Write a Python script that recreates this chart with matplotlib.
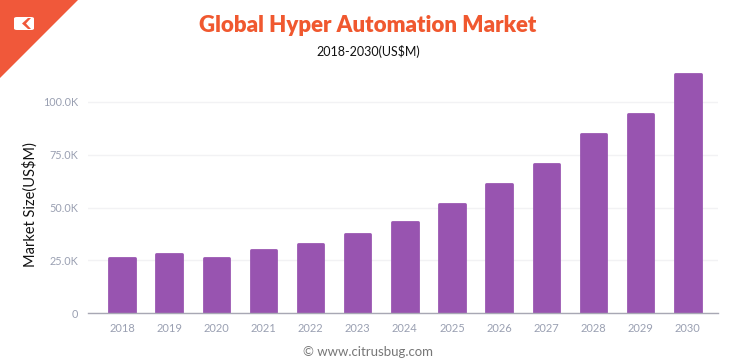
import matplotlib
matplotlib.use("Agg")
import matplotlib.pyplot as plt
from matplotlib.patches import Polygon, FancyBboxPatch
from matplotlib.ticker import FuncFormatter

years = ["2018", "2019", "2020", "2021", "2022", "2023", "2024",
         "2025", "2026", "2027", "2028", "2029", "2030"]
values = [26.1, 28.0, 26.1, 29.9, 32.7, 37.4, 43.1,
          51.7, 61.1, 70.6, 84.8, 94.3, 113.3]  # thousands US$M
yticks = [0, 25, 50, 75, 100]
title = "Global Hyper Automation Market"
subtitle = "2018-2030(US$M)"
ylabel = "Market Size(US$M)"
footer = "© www.citrusbug.com"

W, H = 736, 364
fig = plt.figure(figsize=(W / 100, H / 100), dpi=100)
fig.patch.set_facecolor("white")

ax = fig.add_axes([88 / W, 1 - 313 / H, (718 - 88) / W, (313 - 65) / H])
x = list(range(len(years)))
bars = ax.bar(x, values, width=0.54, color="#9854B0", edgecolor="#9854B0",
              linewidth=2.0, zorder=3)
for b in bars:
    b.set_joinstyle("round")
ax.set_xlim(-0.72, len(years) - 0.36)
ax.set_ylim(0, (313 - 65) / 2.11)
ax.set_yticks(yticks)
ax.yaxis.set_major_formatter(FuncFormatter(lambda v, p: "0" if v == 0 else f"{v:.1f}K"))
ax.set_xticks(x)
ax.set_xticklabels(years)
ax.grid(axis="y", color="#F2F2F4", linewidth=1, zorder=0)
for s in ["top", "right", "left"]:
    ax.spines[s].set_visible(False)
ax.spines["bottom"].set_color("#A8A8B4")
ax.spines["bottom"].set_linewidth(1.0)
ax.spines["bottom"].set_zorder(4)
ax.tick_params(axis="both", length=0, colors="#9AA0B2", labelsize=8)
ax.tick_params(axis="x", pad=7)
ax.tick_params(axis="y", pad=7, labelsize=7.8)
for lab in ax.get_xticklabels() + ax.get_yticklabels():
    lab.set_family("Lato")

fig.text(30 / W, 1 - 205 / H, ylabel, rotation=90, ha="center", va="center",
         fontsize=10.5, color="#111111", family="Lato")
fig.text(368 / W, 1 - 25 / H, title, ha="center", va="center",
         fontsize=16, fontweight="heavy", color="#F0582F", family="Lato")
fig.text(368 / W, 1 - 52 / H, subtitle, ha="center", va="center",
         fontsize=9, color="#111111", family="Lato")
fig.text(368 / W, 1 - 352 / H, footer, ha="center", va="center",
         fontsize=9.5, color="#777777", family="Lato")

# corner decoration
tri = Polygon([[0, 1], [78 / W, 1], [0, 1 - 78 / H]], closed=True,
              transform=fig.transFigure, facecolor="#F0583A", edgecolor="none")
fig.patches.append(tri)
box = FancyBboxPatch((14 / W, 1 - 30 / H), 20 / W, 13 / H,
                     boxstyle="round,pad=0,rounding_size=0.004",
                     transform=fig.transFigure, facecolor="white", edgecolor="none")
fig.patches.append(box)
chev = Polygon([[28 / W, 1 - 18 / H], [22 / W, 1 - 23.5 / H], [28 / W, 1 - 29 / H],
                [31 / W, 1 - 29 / H], [26 / W, 1 - 23.5 / H], [31 / W, 1 - 18 / H]],
               closed=True, transform=fig.transFigure, facecolor="#F0583A", edgecolor="none")
fig.patches.append(chev)

fig.savefig("out.png", dpi=100)
